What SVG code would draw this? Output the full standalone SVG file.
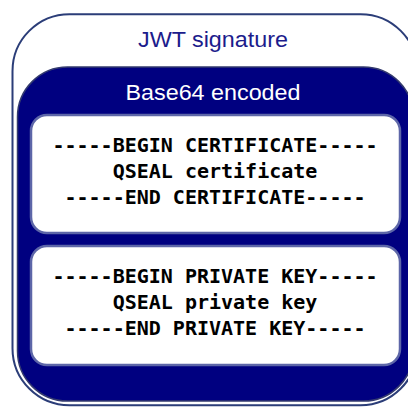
<svg xmlns="http://www.w3.org/2000/svg" width="408" height="407" viewBox="0 0 408 407">
  <style>
    .title { font-family: "Liberation Sans", Arial, sans-serif; font-size: 22px; text-anchor: middle; }
    .mono { font-family: "DejaVu Sans Mono", "Liberation Mono", monospace; font-size: 20px; font-weight: bold; text-anchor: middle; fill: #000000; }
    .box { fill: #ffffff; stroke: #5d66a8; stroke-width: 2.5; }
  </style>
  <g id="jwt-signature">
    <rect x="12.5" y="14.2" width="405" height="391" rx="57" ry="57" fill="#ffffff" stroke="#2b3d78" stroke-width="2"/>
    <text class="title" x="213" y="47" fill="#1c1c8c" textLength="150" lengthAdjust="spacingAndGlyphs">JWT signature</text>
  </g>
  <g id="base64-encoded">
    <rect x="17.5" y="67" width="396" height="334" rx="50" ry="50" fill="#000080" stroke="#333a6e" stroke-width="1.5"/>
    <text class="title" x="213" y="99.5" fill="#ffffff" textLength="175" lengthAdjust="spacingAndGlyphs">Base64 encoded</text>
  </g>
  <g id="certificate">
    <rect class="box" x="31" y="115" width="369" height="118" rx="16" ry="16"/>
    <text class="mono" x="215" y="152.3">-----BEGIN CERTIFICATE-----</text>
    <text class="mono" x="215" y="178.3">QSEAL certificate</text>
    <text class="mono" x="215" y="203.5">-----END CERTIFICATE-----</text>
  </g>
  <g id="private-key">
    <rect class="box" x="31" y="246" width="369" height="119" rx="16" ry="16"/>
    <text class="mono" x="215" y="283.3">-----BEGIN PRIVATE KEY-----</text>
    <text class="mono" x="215" y="309.3">QSEAL private key</text>
    <text class="mono" x="215" y="334.5">-----END PRIVATE KEY-----</text>
  </g>
  <g id="connectors"/>
</svg>
